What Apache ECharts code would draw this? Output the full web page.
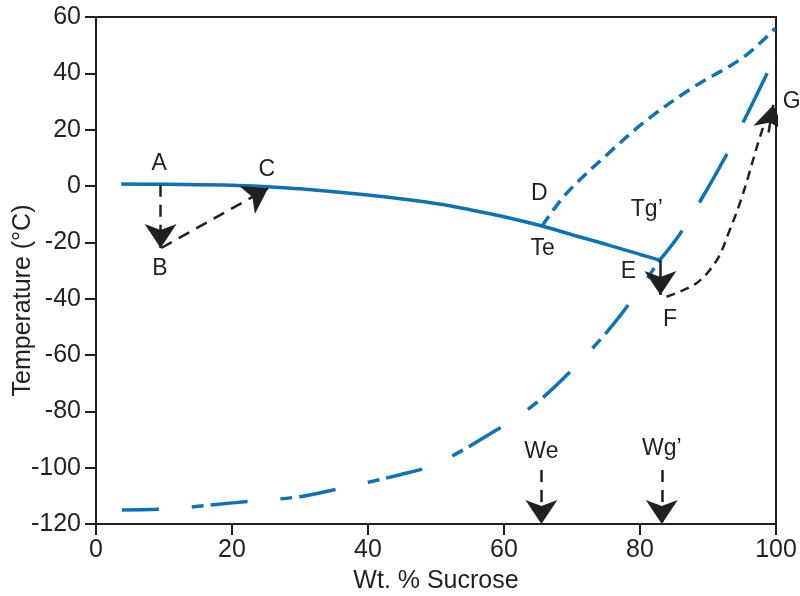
<!DOCTYPE html>
<html>
<head>
<meta charset="utf-8">
<script src="https://cdn.jsdelivr.net/npm/echarts@6/dist/echarts.min.js"></script>
<style>
  html, body { margin: 0; padding: 0; background: #fff; }
  #main { width: 800px; height: 596px; }
</style>
</head>
<body>
<div id="main"></div>
<script>
// ticks
const xTicks = [0, 20, 40, 60, 80, 100];
const yTicks = [-120, -100, -80, -60, -40, -20, 0, 20, 40, 60];

// liquidus (solid), A..C..Te..E
const liqX = [3.7, 10, 20, 25.4, 30, 40, 45, 50, 55, 60, 65.6, 70, 75, 80, 82.9];
const liqY = [0.7, 0.6, 0.3, -0.3, -1, -3.2, -4.6, -6.2, -8.4, -10.9, -14.2, -17.3, -20.7, -24.3, -26.3];

// solubility curve Te -> D (short dashes)
const solX = [65.6, 69.2, 75.1, 81, 87.8, 95.2, 99.9];
const solY = [-14.2, -2.6, 11, 23.4, 35, 45.7, 56];

// glass curve, lower part up to E
const tgLowX = [3.8, 10, 20.1, 30, 34.9, 44.7, 50, 59.4, 65, 69.7, 75, 78.5, 82.9];
const tgLowY = [-115, -114.7, -112.5, -110.3, -107.9, -102.5, -98.7, -85.9, -76.5, -66, -52.2, -41.5, -26.3];
// glass curve, upper part from E (Tg')
const tgHighX = [82.9, 86.1, 92.7, 98.7];
const tgHighY = [-26.3, -16.2, 11, 40];

// path F -> G (black dashed)
const fgX = [83.9, 88.3, 91.3, 93.2, 94.7, 95.9, 97.2, 98.4];
const fgY = [-39.3, -34.5, -26.3, -15.6, -6, 3.2, 14, 23];

// arrows [from, to]
const arrowAB = [[9.5, 0.4], [9.5, -22]];
const arrowBC = [[9.6, -22], [25.3, -0.8]];
const arrowG = [[98.9, 19], [99.6, 28.8]];
const arrowEF = [[83, -26.3], [83, -38.7]];
const arrowWe = [[65.5, -100.8], [65.5, -120]];
const arrowWg = [[83.2, -100.8], [83.2, -120]];

// point labels [x, y, text]
const pointLabels = [
  [9.3, 8.1, 'A'], [9.4, -29.2, 'B'], [25.1, 5.7, 'C'], [65.2, -2.6, 'D'],
  [65.7, -22.1, 'Te'], [81.0, -8.5, 'Tg\u2019'], [78.3, -30.4, 'E'],
  [84.4, -47.6, 'F'], [102.3, 29.9, 'G'], [65.5, -94.3, 'We'], [83.2, -93.1, 'Wg\u2019']
];

const ink = '#231f20';
const blue = '#0b73b6';
const font = 'Liberation Sans, Arial, sans-serif';

const zip = (xs, ys) => xs.map((x, i) => [x, ys[i]]);

const chart = echarts.init(document.getElementById('main'), null, { renderer: 'canvas' });

function curve(name, xs, ys, color, width, type) {
  return {
    name: name, type: 'line', data: zip(xs, ys), smooth: 0.35,
    showSymbol: false, symbol: 'none', clip: false, z: 3,
    lineStyle: { color: color, width: width, type: type, cap: 'butt' }
  };
}

function arrow(name, coords, lineType) {
  return {
    name: name, type: 'lines', coordinateSystem: 'cartesian2d', z: 5,
    symbol: ['none', 'arrow'], symbolSize: [13, 24], symbolOffset: [0, 12],
    lineStyle: { color: ink, width: 2.5, type: lineType, opacity: 1 },
    itemStyle: { color: ink },
    data: [{ coords: coords }]
  };
}

const axisCommon = {
  type: 'value',
  nameLocation: 'middle',
  nameMoveOverlap: false,
  axisLine: { show: true, onZero: false, lineStyle: { color: ink, width: 2 } },
  axisTick: { show: true, inside: false, length: 11, lineStyle: { color: ink, width: 2 } },
  splitLine: { show: false }
};

const option = {
  animation: false,
  backgroundColor: '#fff',
  grid: {
    left: 96, right: 24, top: 17, bottom: 72, containLabel: false, outerBoundsMode: 'none',
    show: true, borderColor: ink, borderWidth: 2
  },
  xAxis: Object.assign({}, axisCommon, {
    min: xTicks[0], max: xTicks[xTicks.length - 1], interval: 20,
    name: 'Wt. % Sucrose', nameGap: 45,
    nameTextStyle: { fontSize: 25, color: ink, fontFamily: font },
    axisLabel: { fontSize: 25, color: ink, fontFamily: font, margin: 14 }
  }),
  yAxis: Object.assign({}, axisCommon, {
    min: yTicks[0], max: yTicks[yTicks.length - 1], interval: 20,
    name: 'Temperature (\u00b0C)', nameGap: 60,
    nameTextStyle: { fontSize: 25, color: ink, fontFamily: font, padding: [0, 60, 0, 0] },
    axisLabel: { fontSize: 25, color: ink, fontFamily: font, margin: 15 }
  }),
  series: [
    curve('liquidus', liqX, liqY, blue, 3.5, 'solid'),
    curve('solubility', solX, solY, blue, 3.5, [12, 7]),
    curve('tgLow', tgLowX, tgLowY, blue, 3.5, [37, 33, 12, 7]),
    curve('tgHigh', tgHighX, tgHighY, blue, 3.5, [37, 33, 56, 35, 60, 30]),
    curve('F-G', fgX, fgY, ink, 2.5, [9, 6]),
    arrow('A-B', arrowAB, [12, 8]),
    arrow('B-C', arrowBC, [12, 8]),
    arrow('G', arrowG, 'solid'),
    arrow('E-F', arrowEF, 'solid'),
    arrow('We', arrowWe, [12, 8]),
    arrow('Wg', arrowWg, [12, 8]),
    {
      name: 'labels', type: 'scatter', data: pointLabels, symbolSize: 0, clip: false, z: 6,
      itemStyle: { color: ink },
      label: {
        show: true, position: 'inside', formatter: p => p.data[2],
        fontSize: 23, color: ink, fontFamily: font, opacity: 1
      }
    }
  ]
};

chart.setOption(option);
</script>
</body>
</html>
